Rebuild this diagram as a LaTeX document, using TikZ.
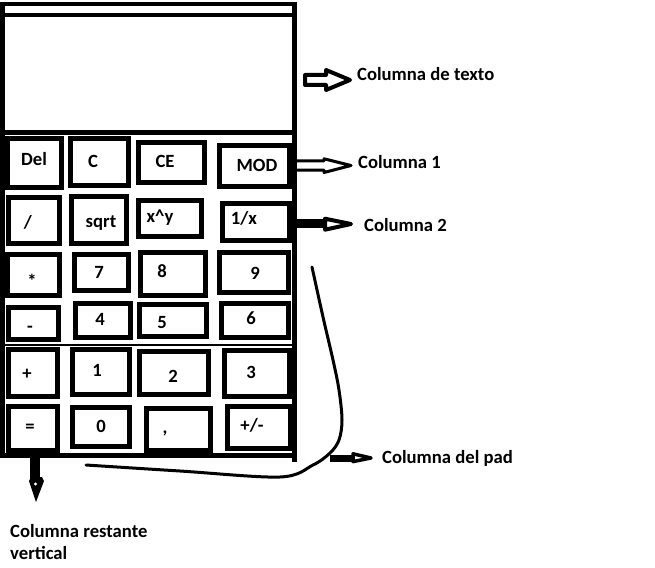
\documentclass[tikz,border=0pt]{standalone}
\usepackage{fontspec}
\setmainfont{Carlito}
\newcommand{\calcbutton}[8]{%
  \pgfmathsetmacro\mybw{#4-#2-5}\pgfmathsetmacro\mybh{#5-#3-5}%
  \node[btnbox, minimum width=\mybw pt, minimum height=\mybh pt] (#1) at ({(#2+#4)/2},{(#3+#5)/2}) {};
  \node[lbl, anchor=base] (#1t) at (#7,#8) {#6};}
\begin{document}
\begin{tikzpicture}[x=1pt,y=-1pt,
  btnbox/.style={draw, line width=5pt, inner sep=0pt, outer sep=0pt},
  lbl/.style={font=\fontsize{18.67}{22}\selectfont\bfseries, inner sep=0pt},
  casing/.style={line width=#1},
  blockarrow/.style={line width=#1, line join=round, fill=white},
  handcurve/.style={line width=3pt, line cap=round}]
\useasboundingbox[fill=white] (0,0) rectangle (655,567);
% casing
\draw[casing=5pt] (2.5,2) -- (2.5,458);
\draw[casing=5pt] (294.5,2) -- (294.5,462);
\draw[casing=4pt] (0,4) -- (297,4);
\draw[casing=4pt] (0,15) -- (297,15);
\draw[casing=5pt] (0,132.5) -- (297,132.5);
\draw[casing=5pt] (0,455.5) -- (297,455.5);
\draw[casing=2pt] (5,345) -- (292,345);
% buttons
\calcbutton{bDel}{5}{136}{64}{190}{Del}{34}{165}
\calcbutton{bC}{68}{136}{131}{188}{C}{93}{167}
\calcbutton{bCE}{136}{140}{207}{185}{CE}{165}{167}
\calcbutton{bMOD}{217}{143}{292}{189}{MOD}{257}{171}
\calcbutton{bDiv}{6}{195}{62}{246}{/}{28}{228}
\calcbutton{bSqrt}{69}{194}{129}{246}{sqrt}{101}{227}
\calcbutton{bPow}{136}{198}{204}{239}{x\textasciicircum y}{160}{222}
\calcbutton{bInv}{220}{201}{292}{243}{1/x}{244}{224}
\calcbutton{bMul}{5}{252}{62}{298}{*}{32}{287}
\calcbutton{bSeven}{72}{252}{131}{293}{7}{99}{278}
\calcbutton{bEight}{138}{250}{208}{298}{8}{162}{277}
\calcbutton{bNine}{217}{250}{291}{295}{9}{255}{279}
\calcbutton{bSub}{6}{305}{61}{342}{-}{30}{332}
\calcbutton{bFour}{73}{301}{133}{340}{4}{100}{325}
\calcbutton{bFive}{137}{302}{209}{339}{5}{162}{328}
\calcbutton{bSix}{219}{301}{291}{340}{6}{251}{324}
\calcbutton{bAdd}{6}{347}{60}{399}{+}{27}{379}
\calcbutton{bOne}{70}{347}{132}{397}{1}{97}{376}
\calcbutton{bTwo}{137}{349}{211}{397}{2}{173}{382}
\calcbutton{bThree}{222}{348}{292}{399}{3}{251}{378}
\calcbutton{bEq}{6}{404}{60}{453}{=}{30}{432}
\calcbutton{bZero}{70}{405}{132}{449}{0}{101}{432}
\calcbutton{bComma}{144}{406}{213}{453}{,}{165}{433}
\calcbutton{bSign}{225}{404}{293}{451}{+/-}{252}{431}
% annotations
\node[lbl, anchor=base west] (lText) at (357,81) {Columna de texto};
\node[lbl, anchor=base west] (lOne) at (358,168) {Columna 1};
\node[lbl, anchor=base west] (lTwo) at (364,231) {Columna 2};
\node[lbl, anchor=base west] (lPad) at (382,463) {Columna del pad};
\node[lbl, anchor=base west] (lRest) at (10,537) {Columna restante};
\node[lbl, anchor=base west] (lVert) at (10,559) {vertical};
% arrow: columna de texto (hollow)
\draw[blockarrow=4pt] (305,75) -- (326,75) -- (326,70) -- (350,80) -- (326,90) -- (326,85) -- (305,85) -- cycle;
% arrow: columna 1
\draw[blockarrow=3pt] (297,160.8) -- (324,160.8) -- (324,158.8) -- (351,165.5) -- (324,172.5) -- (324,170.2) -- (297,170.2);
% arrow: columna 2
\fill (296,219.3) rectangle (325,228.3);
\draw[blockarrow=4pt] (325,218.7) -- (351,224) -- (325,229.7) -- cycle;
% arrow: columna del pad
\fill (330,455) rectangle (353,462);
\draw[blockarrow=3.5pt] (353,453.8) -- (371,458) -- (353,461.6) -- cycle;
% arrow: columna restante vertical
\fill (30,457) rectangle (40,479);
\fill (29,481) -- (31,477) -- (42,477) -- (44,481) -- (36,502) -- cycle;
\fill[white] (35.5,484) circle (1.6);
% hand-drawn bracket curve
\coordinate (cStart) at (86,465);
\coordinate (cEnd) at (312,267);
\draw[handcurve] plot[smooth, tension=0.55] coordinates {(cStart) (180,471) (280,477) (313,465) (330,453) (339,440) (342,420) (339,390) (333,360) (323,317) (cEnd)};
\end{tikzpicture}
\end{document}
